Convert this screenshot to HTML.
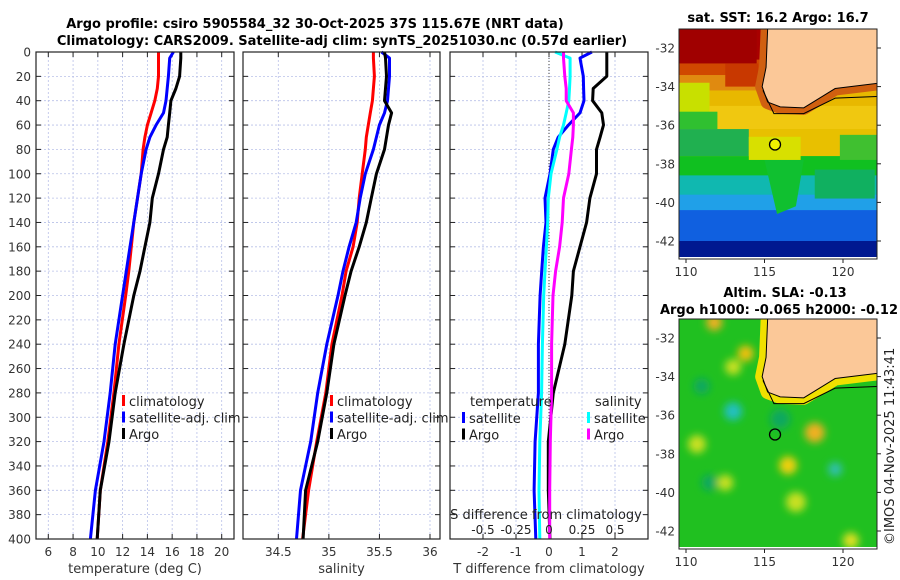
<!DOCTYPE html>
<html><head><meta charset="utf-8">
<style>
body{margin:0;background:#fff;}
svg{display:block;font-family:"DejaVu Sans","Liberation Sans",sans-serif;}
</style></head>
<body>
<svg id="fig" width="900" height="580" viewBox="0 0 900 580" xmlns="http://www.w3.org/2000/svg">
<defs><filter id="blur4" x="-50%" y="-50%" width="200%" height="200%"><feGaussianBlur stdDeviation="4"/></filter></defs>
<rect width="900" height="580" fill="#fff"/>
<text x="315" y="28" text-anchor="middle" font-size="13" font-weight="bold">Argo profile: csiro 5905584_32 30-Oct-2025 37S 115.67E (NRT data)</text>
<text x="342" y="45" text-anchor="middle" font-size="13" font-weight="bold">Climatology: CARS2009. Satellite-adj clim: synTS_20251030.nc (0.57d earlier)</text>
<g id="plots"></g>
<g id="maps"></g>
</svg>
<script>
// ---- data ----
const depths =   [0,5,20,30,40,50,60,70,80,100,120,140,160,180,200,240,280,320,360,400];
const tempClim = [14.9,14.9,14.9,14.8,14.6,14.3,14.0,13.8,13.65,13.5,13.2,12.9,12.7,12.5,12.25,11.7,11.3,10.8,10.2,9.95];
const tempSat =  [16.1,15.8,15.7,15.6,15.5,15.3,14.7,14.2,13.9,13.5,13.2,12.9,12.6,12.3,12.0,11.4,11.0,10.5,9.8,9.4];
const tempArgo = [16.7,16.7,16.6,16.3,15.9,15.8,15.7,15.6,15.3,14.9,14.4,14.2,13.8,13.4,12.9,12.1,11.4,10.9,10.2,9.95];
const salClim =  [35.44,35.44,35.45,35.44,35.43,35.41,35.39,35.37,35.36,35.33,35.3,35.28,35.24,35.17,35.13,35.03,34.97,34.88,34.8,34.74];
const salSat =   [35.52,35.6,35.6,35.59,35.58,35.55,35.5,35.47,35.44,35.36,35.31,35.27,35.2,35.14,35.09,34.98,34.89,34.82,34.72,34.68];
const salArgo =  [35.55,35.56,35.57,35.56,35.55,35.62,35.59,35.57,35.55,35.47,35.42,35.37,35.3,35.22,35.16,35.05,34.98,34.89,34.77,34.745];
const dTsat =    [1.3,0.94,1.04,1.05,1.06,0.94,0.59,0.28,0.13,0.03,-0.12,-0.09,-0.17,-0.22,-0.27,-0.32,-0.32,-0.42,-0.45,-0.4];
const dTargo =   [1.75,1.75,1.75,1.34,1.32,1.6,1.65,1.55,1.44,1.44,1.24,1.14,0.94,0.74,0.69,0.48,0.13,-0.02,-0.02,0.03];
const dSsat =    [0.046,0.16,0.16,0.155,0.15,0.13,0.11,0.08,0.06,0.015,-0.005,-0.01,-0.02,-0.03,-0.04,-0.05,-0.056,-0.07,-0.076,-0.07];
const dSargo =   [0.11,0.11,0.12,0.13,0.13,0.185,0.185,0.18,0.17,0.15,0.11,0.1,0.08,0.05,0.03,0.02,0.02,0.01,0.005,0.005];
const depthTicks = [0,20,40,60,80,100,120,140,160,180,200,220,240,260,280,300,320,340,360,380,400];
const tempTicks = [6,8,10,12,14,16,18,20];
const salTicks = [34.5,35,35.5,36];
const dTTicks = [-2,-1,0,1,2];
const dSTicks = [-0.5,-0.25,0,0.25,0.5];
const latTicks = [-32,-34,-36,-38,-40,-42];
const lonTicks = [110,115,120];

const NS="http://www.w3.org/2000/svg";
function mk(tag,attrs,parent,txt){const e=document.createElementNS(NS,tag);for(const k in attrs)e.setAttribute(k,attrs[k]);if(txt!==undefined)e.textContent=txt;parent.appendChild(e);return e;}
const plots=document.getElementById('plots');
const Y0=52,Y1=539;
const yD=d=>Y0+(d/400)*(Y1-Y0);
function lin(d0,d1,r0,r1){return v=>r0+(v-d0)/(d1-d0)*(r1-r0);}

function panel(name,x0,x1,xs,ticks,fmt,xlabel){
  const g=mk('g',{},plots);
  
  
  depthTicks.forEach(d=>{mk('line',{x1:x0,x2:x1,y1:yD(d),y2:yD(d),stroke:'#b8c0e8','stroke-width':0.8,'stroke-dasharray':'2,2'},g);});
  ticks.forEach(t=>{mk('line',{x1:xs(t),x2:xs(t),y1:Y0,y2:Y1,stroke:'#b8c0e8','stroke-width':0.8,'stroke-dasharray':'2,2'},g);});
  ticks.forEach(t=>{
    mk('line',{x1:xs(t),x2:xs(t),y1:Y1,y2:Y1-5,stroke:'#222'},g);
    mk('line',{x1:xs(t),x2:xs(t),y1:Y0,y2:Y0+5,stroke:'#222'},g);
    const tl=mk('text',{x:xs(t),y:Y1+17,'text-anchor':'middle','font-size':12,fill:'#333'},g,fmt(t));
    
    
  });
  depthTicks.forEach(d=>{
    mk('line',{x1:x0,x2:x0+5,y1:yD(d),y2:yD(d),stroke:'#222'},g);
    mk('line',{x1:x1,x2:x1-5,y1:yD(d),y2:yD(d),stroke:'#222'},g);
  });
  if(xlabel){const xl=mk('text',{x:(x0+x1)/2,y:Y1+34,'text-anchor':'middle','font-size':13,fill:'#333'},g,xlabel);
    
    }
  return g;
}
function line(g,name,vals,xs,color){
  const pts=vals.map((v,i)=>xs(v).toFixed(1)+','+yD(depths[i]).toFixed(1)).join(' ');
  const p=mk('polyline',{points:pts,fill:'none',stroke:color,'stroke-width':3,'stroke-linejoin':'round'},g);
  
  
}
function frame(g,x0,x1){mk('rect',{x:x0,y:Y0,width:x1-x0,height:Y1-Y0,fill:'none',stroke:'#222','stroke-width':1.2},g);}
function legend(g,x,y,items){
  items.forEach((it,i)=>{
    const yy=y+i*16.5;
    mk('rect',{x:x,y:yy-6,width:3,height:11,fill:it[1]},g);
    const t=mk('text',{x:x+7,y:yy+5,'font-size':13,fill:'#222'},g,it[0]);
    
    
  });
}

// panel 1 temperature
const xT=lin(6,20,48.3,221.7);
const g1=panel('temperature-panel',36,234,xT,tempTicks,t=>String(t),'temperature (deg C)');
depthTicks.forEach(d=>{const t=mk('text',{x:31,y:yD(d)+4.5,'text-anchor':'end','font-size':12,fill:'#333'},g1,String(d));
  
  });
line(g1,'temp-climatology-line',tempClim,xT,'#f00');
line(g1,'temp-satellite-line',tempSat,xT,'#00f');
line(g1,'temp-argo-line',tempArgo,xT,'#000');
legend(g1,122,401,[['climatology','#f00'],['satellite-adj. clim','#00f'],['Argo','#000']]);
frame(g1,36,234);

// panel 2 salinity
const xS=lin(34.5,36,278.3,430);
const g2=panel('salinity-panel',243,440,xS,salTicks,t=>String(t),'salinity');
line(g2,'sal-climatology-line',salClim,xS,'#f00');
line(g2,'sal-satellite-line',salSat,xS,'#00f');
line(g2,'sal-argo-line',salArgo,xS,'#000');
legend(g2,330,401,[['climatology','#f00'],['satellite-adj. clim','#00f'],['Argo','#000']]);
frame(g2,243,440);

// panel 3 differences
const xDT=lin(-3,3,450,648);
const xDS=lin(-0.75,0.75,450,648);
const g3=panel('difference-panel',450,648,xDT,dTTicks,t=>String(t),'T difference from climatology');
mk('line',{x1:xDT(0),x2:xDT(0),y1:Y0,y2:Y1,stroke:'#444','stroke-dasharray':'1,2'},g3);
line(g3,'dT-satellite-line',dTsat,xDT,'#00f');
line(g3,'dT-argo-line',dTargo,xDT,'#000');
line(g3,'dS-satellite-line',dSsat,xDS,'#0ff');
line(g3,'dS-argo-line',dSargo,xDS,'#f0f');
let tt=mk('text',{x:470,y:406,'font-size':13,fill:'#222'},g3,'temperature');


legend(g3,462,418,[['satellite','#00f'],['Argo','#000']]);
tt=mk('text',{x:595,y:406,'font-size':13,fill:'#222'},g3,'salinity');


legend(g3,587,418,[['satellite','#0ff'],['Argo','#f0f']]);
tt=mk('text',{x:546,y:519,'text-anchor':'middle','font-size':13,fill:'#222'},g3,'S difference from climatology');


dSTicks.forEach(t=>{const e=mk('text',{x:xDS(t),y:534,'text-anchor':'middle','font-size':12,fill:'#222'},g3,String(t));
  
  });
frame(g3,450,648);

// ---- maps ----
const maps=document.getElementById('maps');
const lonX=lin(110,120,686,843);
function latYf(top){return lin(-32,-42,top+19,top+212);}
function drawMap(name,top,kind,title1,title2){
  const g=mk('g',{},maps);
  
  
  const ly=latYf(top);
  const X0=679,X1=877,YT=top,YB=top+230;
  const clipId='clip'+name;
  const cp=mk('clipPath',{id:clipId},g);mk('rect',{x:X0,y:YT,width:X1-X0,height:YB-YT-2},cp);
  const inner=mk('g',{'clip-path':'url(#'+clipId+')'},g);
  if(kind==='sst'){
    const bands=[[-31,'#a80000'],[-32.6,'#d04800'],[-33.4,'#e08a10'],[-34.2,'#e8b800'],[-35,'#f0c810'],[-36.2,'#e8c000'],[-37.6,'#10c020'],[-38.6,'#10b8b0'],[-39.6,'#20a0e8'],[-40.4,'#1060e0'],[-42.2,'#0020a0'],[-43,'#0020a0']];
    for(let i=0;i<bands.length-1;i++){
      mk('rect',{x:X0,y:ly(bands[i][0]),width:X1-X0,height:ly(bands[i+1][0])-ly(bands[i][0])+1,fill:bands[i][1]},inner);
    }
    mk('rect',{x:X0,y:ly(-33.8),width:lonX(111.5)-X0,height:ly(-35.5)-ly(-33.8),fill:'#c8e000'},inner);
    mk('rect',{x:X0,y:ly(-35.3),width:lonX(112)-X0,height:ly(-36.2)-ly(-35.3),fill:'#30c030'},inner);
    mk('rect',{x:X0,y:ly(-36.2),width:lonX(114)-X0,height:ly(-37.6)-ly(-36.2),fill:'#20b050'},inner);
    mk('rect',{x:lonX(114),y:ly(-36.6),width:lonX(117.3)-lonX(114),height:ly(-37.8)-ly(-36.6),fill:'#d8e000'},inner);
    mk('rect',{x:lonX(119.8),y:ly(-36.5),width:X1-lonX(119.8),height:ly(-37.8)-ly(-36.5),fill:'#40c030'},inner);
    mk('path',{d:`M${lonX(115)},${ly(-37.8)} L${lonX(117.5)},${ly(-37.8)} L${lonX(117)},${ly(-40.2)} L${lonX(115.8)},${ly(-40.6)} Z`,fill:'#10c030'},inner);
    mk('rect',{x:lonX(118.2),y:ly(-38.3),width:60,height:ly(-39.8)-ly(-38.3),fill:'#10b060'},inner);
    mk('rect',{x:X0,y:ly(-31),width:lonX(114.5)-X0,height:ly(-32.8)-ly(-31),fill:'#a00000'},inner);
    mk('rect',{x:lonX(112.5),y:ly(-32.8),width:lonX(114.6)-lonX(112.5),height:ly(-34)-ly(-32.8),fill:'#c83800'},inner);
    mk('rect',{x:X0,y:ly(-42),width:X1-X0,height:YB-ly(-42),fill:'#001890'},inner);
  } else {
    mk('rect',{x:X0,y:YT,width:X1-X0,height:YB-YT,fill:'#20c020'},inner);
    const bg=mk('g',{filter:'url(#blur4)'},inner);
    const blobs=[[113,-35.8,9,'#20c0c0'],[111,-34.5,8,'#10a860'],[118.2,-36.9,10,'#f0b020'],[116.5,-38.6,9,'#f0d010'],[119.5,-38.8,7,'#30c0b0'],[111.8,-31.2,8,'#f0b020'],[113.8,-32.8,8,'#f0c010'],[110.7,-37.5,9,'#c8e020'],[112.5,-39.5,8,'#c8e020'],[117,-40.5,10,'#c8e020'],[116,-36.2,10,'#10a860'],[120.5,-42.5,8,'#e0e020'],[113,-33.5,8,'#c8e020'],[111.5,-39.5,8,'#10a860']];
    blobs.forEach(b=>{mk('circle',{cx:lonX(b[0]),cy:ly(b[1]),r:b[2],fill:b[3]},bg);});
  }
  const shelfCol=kind==='sst'?'#d06010':'#f0e000';
  const coast=`M${lonX(115.2)},${YT} L${lonX(115.1)},${ly(-33)} L${lonX(114.85)},${ly(-34)} L${lonX(115.2)},${ly(-34.8)} L${lonX(116)},${ly(-35.05)} L${lonX(117.5)},${ly(-35.1)} L${lonX(118.5)},${ly(-34.6)} L${lonX(119.5)},${ly(-34.1)} L${lonX(122.5)},${ly(-33.8)} L${lonX(122.5)},${YT} Z`;
  mk('path',{d:coast,fill:'none',stroke:shelfCol,'stroke-width':14,'stroke-linejoin':'round'},inner);
  mk('path',{d:coast,fill:'#fbc898',stroke:'#000','stroke-width':1},inner);
  mk('path',{d:`M${lonX(114.9)},${ly(-34.2)} L${lonX(115.6)},${ly(-35.4)} L${lonX(117.5)},${ly(-35.4)} L${lonX(119.5)},${ly(-34.6)} L${lonX(122.5)},${ly(-34.5)}`,fill:'none',stroke:'#000','stroke-width':1},inner);
  const c=mk('circle',{cx:lonX(115.67),cy:ly(-37),r:5.5,fill:kind==='sst'?'#f0f000':'none',stroke:'#000','stroke-width':1.3},g);
  
  
  mk('rect',{x:X0,y:YT,width:X1-X0,height:YB-YT,fill:'none',stroke:'#222','stroke-width':1},g);
  latTicks.forEach(l=>{
    mk('line',{x1:X1,x2:X1+4,y1:ly(l),y2:ly(l),stroke:'#222'},g);
    const t=mk('text',{x:X0-4,y:ly(l)+4.5,'text-anchor':'end','font-size':12,fill:'#333'},g,String(l));
    
    
  });
  lonTicks.forEach(l=>{
    mk('line',{x1:lonX(l),x2:lonX(l),y1:YB,y2:YB+4,stroke:'#222'},g);
    const t=mk('text',{x:lonX(l),y:YB+17,'text-anchor':'middle','font-size':12,fill:'#333'},g,String(l));
    
    
  });
  if(title2){
    let t=mk('text',{x:785,y:top-22,'text-anchor':'middle','font-size':13,'font-weight':'bold'},g,title1);
    
    
    t=mk('text',{x:779,y:top-5,'text-anchor':'middle','font-size':13,'font-weight':'bold'},g,title2);
    
    
  } else {
    const t=mk('text',{x:778,y:top-7,'text-anchor':'middle','font-size':13,'font-weight':'bold'},g,title1);
    
    
  }
}
drawMap('sst-map',29,'sst','sat. SST: 16.2 Argo: 16.7');
drawMap('sla-map',319,'sla','Altim. SLA: -0.13','Argo h1000: -0.065 h2000: -0.12');
const cr=mk('text',{x:0,y:0,'font-size':13,fill:'#222',transform:'translate(894,545) rotate(-90)'},maps,'©IMOS 04-Nov-2025 11:43:41');


</script>
</body></html>
